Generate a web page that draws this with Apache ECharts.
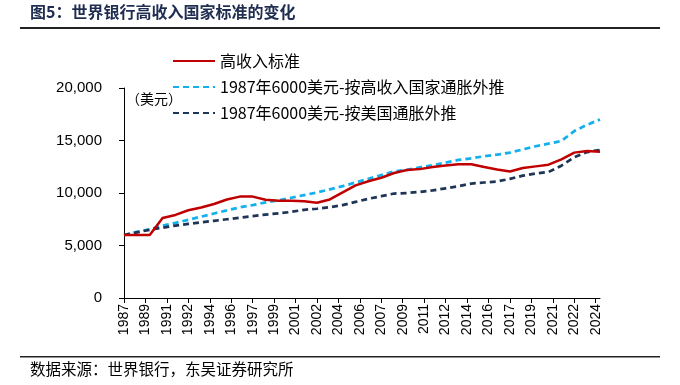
<!DOCTYPE html>
<html><head><meta charset="utf-8">
<script src="https://cdn.jsdelivr.net/npm/echarts@6/dist/echarts.min.js"></script>
<style>html,body{margin:0;padding:0;background:#fff}#c{width:680px;height:385px}</style>
</head><body><div id="c"></div>
<script>
const years = [1987,1988,1989,1990,1991,1992,1993,1994,1995,1996,1997,1998,1999,2000,2001,2002,2003,2004,2005,2006,2007,2008,2009,2010,2011,2012,2013,2014,2015,2016,2017,2018,2019,2020,2021,2022,2023,2024];
const highIncome = [6000,6000,6000,7620,7910,8355,8625,8955,9385,9655,9655,9360,9265,9265,9205,9075,9385,10065,10725,11115,11455,11905,12195,12275,12475,12615,12745,12735,12475,12235,12055,12375,12535,12695,13205,13845,14005,13935];
const hiInflation = [6000,6300,6550,6900,7150,7450,7750,8050,8350,8630,8850,9100,9300,9550,9800,10050,10350,10650,11000,11350,11700,12050,12200,12450,12650,12900,13150,13300,13500,13650,13850,14150,14450,14700,14950,15900,16500,17000];
const usInflation = [6000,6250,6500,6700,6900,7050,7200,7350,7500,7650,7800,7950,8050,8200,8400,8500,8650,8850,9150,9450,9700,9950,10000,10100,10250,10450,10650,10900,11000,11100,11350,11650,11850,12000,12600,13400,13900,14100];
const xTickLabels = ['1987','1989','1991','1992','1994','1996','1997','1999','2001','2002','2004','2006','2007','2009','2011','2012','2014','2016','2017','2019','2021','2022','2024'];
const seriesNames = ['高收入标准','1987年6000美元-按高收入国家通胀外推','1987年6000美元-按美国通胀外推'];

const tickStep = 5/3;
const tickValues = xTickLabels.map((_, i) => years[0] + i * tickStep);
const pair = arr => years.map((y, i) => [y, arr[i]]);
const F = "'Liberation Sans','Noto Sans CJK SC',sans-serif";
const CJK = "'Noto Sans CJK SC','Liberation Sans',sans-serif";
const chart = echarts.init(document.getElementById('c'));
chart.setOption({
  animation: false,
  textStyle: {fontFamily: F},
  grid: {left: 124, right: 80, top: 88, bottom: 87},
  legend: {
    orient: 'vertical', left: 172, top: 53, padding: 0, itemWidth: 42, itemHeight: 16, itemGap: 10,
    itemStyle: {opacity: 0},
    textStyle: {fontSize: 16, color: '#000', fontFamily: CJK},
    data: seriesNames
  },
  graphic: [
    {type: 'text', left: 30, top: 4, style: {text: '图5：世界银行高收入国家标准的变化', fontSize: 16, fontWeight: 'bold', fill: '#1f2d50', fontFamily: CJK}},
    {type: 'rect', shape: {x: 20, y: 27, width: 640, height: 2}, style: {fill: '#222'}},
    {type: 'rect', shape: {x: 20, y: 356, width: 640, height: 1.5}, style: {fill: '#222'}},
    {type: 'text', left: 30, top: 361, style: {text: '数据来源：世界银行，东吴证券研究所', fontSize: 15.5, fill: '#000', fontFamily: CJK}},
    {type: 'text', left: 126, top: 92, style: {text: '（美元）', fontSize: 14, fill: '#000', fontFamily: CJK}}
  ],
  xAxis: {
    type: 'value', min: years[0], max: years[years.length - 1],
    axisLine: {show: true, onZero: false, lineStyle: {color: '#000', width: 1}},
    axisTick: {show: true, length: 5, customValues: tickValues, lineStyle: {color: '#000'}},
    axisLabel: {
      customValues: tickValues, rotate: 90, fontSize: 14, color: '#000', margin: 6,
      formatter: v => { const i = Math.round((v - years[0]) / tickStep); return xTickLabels[i] || ''; }
    },
    splitLine: {show: false}
  },
  yAxis: {
    type: 'value', min: 0, max: 20000, interval: 5000,
    axisLine: {show: true, lineStyle: {color: '#000', width: 1}},
    axisTick: {show: true, length: 5, lineStyle: {color: '#000'}},
    axisLabel: {fontSize: 15, color: '#000', margin: 22, formatter: v => v.toLocaleString('en-US')},
    splitLine: {show: false}
  },
  series: [
    {name: seriesNames[0], type: 'line', symbol: 'none', data: pair(highIncome), lineStyle: {color: '#c00000', width: 2.5}, itemStyle: {color: '#c00000'}, z: 3},
    {name: seriesNames[1], type: 'line', symbol: 'none', data: pair(hiInflation), lineStyle: {color: '#13b0ee', width: 2.75, type: [6, 4]}, itemStyle: {color: '#13b0ee'}, z: 2},
    {name: seriesNames[2], type: 'line', symbol: 'none', data: pair(usInflation), lineStyle: {color: '#1f3556', width: 2.75, type: [6, 4]}, itemStyle: {color: '#1f3556'}, z: 2}
  ]
});
</script></body></html>
